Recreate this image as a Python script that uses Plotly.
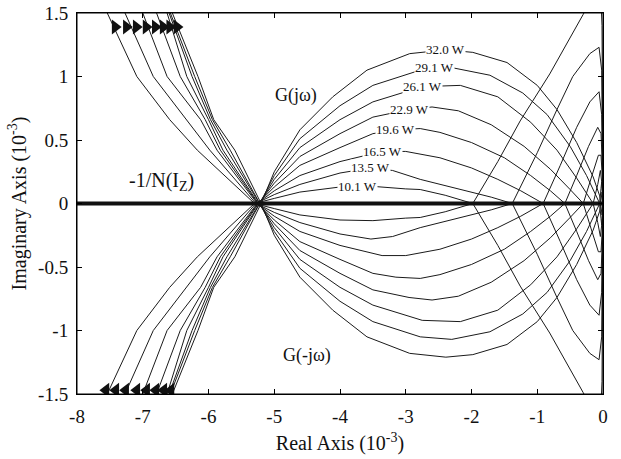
import plotly.graph_objects as go

# ---- data (units of 1e-3) ----
powers = ["10.1 W", "13.5 W", "16.5 W", "19.6 W", "22.9 W", "26.1 W", "29.1 W", "32.0 W"]

# left (low-frequency) segment: x at these |Im| levels
left_levels = [1.6, 1.5, 1.0, 0.66, 0.42]
left_x = [
    [-7.64, -7.54, -7.09, -6.59, -6.17],
    [-7.36, -7.27, -6.84, -6.33, -5.98],
    [-7.09, -7.00, -6.63, -6.12, -5.87],
    [-6.87, -6.79, -6.43, -6.05, -5.82],
    [-6.70, -6.63, -6.33, -6.00, -5.78],
    [-6.66, -6.60, -6.25, -5.97, -5.72],
    [-6.63, -6.58, -6.21, -5.94, -5.67],
    [-6.60, -6.55, -6.16, -5.92, -5.60],
]

# hump branch after the common crossing near -5.2
hump_x = [
    [-5.30, -5.00, -4.61, -4.00, -3.73, -3.50, -3.00, -2.78, -2.40, -1.98, -1.60, -1.26, -0.81, -0.30, -0.12, -0.04, -0.015, 0.0],
    [-5.28, -5.00, -4.61, -4.00, -3.53, -3.20, -2.78, -2.48, -2.00, -1.70, -1.38, -1.00, -0.70, -0.46, -0.20, -0.06, -0.02, -0.01, 0.0],
    [-5.26, -5.00, -4.61, -4.00, -3.36, -3.00, -2.78, -2.48, -2.00, -1.60, -1.25, -0.91, -0.65, -0.40, -0.20, -0.06, -0.02, -0.01, 0.0],
    [-5.25, -5.00, -4.61, -4.00, -3.50, -3.15, -2.78, -2.48, -2.00, -1.50, -1.10, -0.80, -0.58, -0.40, -0.22, -0.08, -0.03, -0.01, 0.0],
    [-5.24, -5.00, -4.61, -4.00, -3.50, -2.95, -2.60, -2.20, -1.70, -1.20, -0.80, -0.50, -0.30, -0.18, -0.07, -0.03, -0.01, 0.0],
    [-5.23, -5.00, -4.61, -4.00, -3.50, -2.75, -2.17, -1.60, -1.10, -0.70, -0.40, -0.15, -0.08, -0.04, -0.015, 0.0],
    [-5.22, -5.00, -4.61, -4.00, -3.50, -2.78, -2.30, -1.72, -1.22, -0.85, -0.50, -0.25, -0.10, -0.05, -0.03, -0.02, -0.01, 0.0],
    [-5.20, -5.00, -4.61, -4.11, -3.59, -2.94, -2.39, -1.98, -1.46, -1.00, -0.70, -0.40, -0.15, -0.05, -0.025, -0.015, -0.005, 0.0],
]
hump_y = [
    [0.0, 0.04, 0.09, 0.13, 0.135, 0.135, 0.115, 0.11, 0.065, 0.0, -0.33, -0.65, -1.02, -1.49, -1.68, -1.72, -1.40, 0.0],
    [0.0, 0.07, 0.15, 0.24, 0.28, 0.26, 0.19, 0.15, 0.09, 0.05, 0.0, -0.40, -0.74, -1.00, -1.18, -1.23, -1.05, -0.60, 0.0],
    [0.0, 0.10, 0.22, 0.33, 0.41, 0.41, 0.39, 0.36, 0.28, 0.19, 0.10, 0.0, -0.30, -0.60, -0.80, -0.88, -0.70, -0.40, 0.0],
    [0.0, 0.13, 0.30, 0.44, 0.55, 0.58, 0.59, 0.56, 0.48, 0.36, 0.22, 0.10, 0.0, -0.22, -0.45, -0.60, -0.55, -0.30, 0.0],
    [0.0, 0.16, 0.37, 0.55, 0.68, 0.74, 0.76, 0.73, 0.62, 0.45, 0.27, 0.11, 0.0, -0.20, -0.38, -0.38, -0.20, 0.0],
    [0.0, 0.19, 0.44, 0.66, 0.80, 0.92, 0.93, 0.84, 0.64, 0.42, 0.20, 0.0, -0.15, -0.26, -0.15, 0.0],
    [0.0, 0.22, 0.51, 0.77, 0.93, 1.05, 1.07, 1.01, 0.87, 0.70, 0.45, 0.22, 0.06, 0.0, -0.12, -0.17, -0.10, 0.0],
    [0.0, 0.25, 0.58, 0.84, 1.05, 1.18, 1.21, 1.19, 1.11, 0.93, 0.74, 0.48, 0.21, 0.06, -0.03, -0.09, -0.05, 0.0],
]

# power label positions (on the upper humps)
label_x = [-3.73, -3.53, -3.36, -3.15, -2.95, -2.75, -2.56, -2.39]
label_y = [0.13, 0.28, 0.41, 0.58, 0.74, 0.92, 1.07, 1.21]

# arrow heads
arrow_top_x = [-7.42, -7.25, -7.10, -6.95, -6.81, -6.69, -6.59, -6.48]
arrow_top_y = [1.39] * 8
arrow_bot_x = [-7.56, -7.41, -7.26, -7.09, -6.94, -6.80, -6.68, -6.57]
arrow_bot_y = [-1.47] * 8

# -1/N line
nline_x = [-8, 0]
nline_y = [0, 0]

x_ticks = [-8, -7, -6, -5, -4, -3, -2, -1, 0]
y_ticks = [-1.5, -1, -0.5, 0, 0.5, 1, 1.5]
y_ticktext = ["-1.5", "-1", "-0.5", "0", "0.5", "1", "1.5"]

FONT = "Liberation Serif, Times New Roman, serif"
LC = "#1a1a1a"

fig = go.Figure()

for k in range(len(powers)):
    xs = left_x[k] + hump_x[k]
    ys = [-v for v in left_levels] + hump_y[k]
    fig.add_trace(go.Scatter(x=xs, y=ys, mode="lines",
                             line=dict(color=LC, width=1), hoverinfo="skip", showlegend=False))
    fig.add_trace(go.Scatter(x=xs, y=[-v for v in ys], mode="lines",
                             line=dict(color=LC, width=1), hoverinfo="skip", showlegend=False))

fig.add_trace(go.Scatter(x=nline_x, y=nline_y, mode="lines",
                         line=dict(color="#111", width=4), hoverinfo="skip", showlegend=False))

fig.add_trace(go.Scatter(x=arrow_top_x, y=arrow_top_y, mode="markers",
                         marker=dict(symbol="triangle-right", size=13, color="#111"),
                         hoverinfo="skip", showlegend=False))
fig.add_trace(go.Scatter(x=arrow_bot_x, y=arrow_bot_y, mode="markers",
                         marker=dict(symbol="triangle-left", size=13, color="#111"),
                         hoverinfo="skip", showlegend=False))

for k, p in enumerate(powers):
    fig.add_annotation(x=label_x[k], y=label_y[k], text=p, showarrow=False,
                       font=dict(family=FONT, size=13, color="#111"),
                       bgcolor="white", borderpad=0)

fig.add_annotation(x=-4.67, y=0.85, text="G(jω)", showarrow=False,
                   font=dict(family=FONT, size=18, color="#111"))
fig.add_annotation(x=-4.5, y=-1.2, text="G(-jω)", showarrow=False,
                   font=dict(family=FONT, size=18, color="#111"))
fig.add_annotation(x=-6.71, y=0.17, text="-1/N(I<sub>Z</sub>)", showarrow=False,
                   font=dict(family=FONT, size=20, color="#111"))

# frame around the plotting area
fig.add_shape(type="rect", xref="paper", yref="paper", x0=0, y0=0, x1=1, y1=1,
              line=dict(color="black", width=1), layer="above")

axis_common = dict(showline=True, linecolor="black", linewidth=1, mirror="ticks",
                   ticks="inside", ticklen=5, tickcolor="black", showgrid=False,
                   zeroline=False, automargin=False, ticklabeloverflow="allow",
                   tickfont=dict(family=FONT, size=19, color="#111"))

fig.update_xaxes(range=[-8, 0], tickvals=x_ticks, ticktext=[str(v) for v in x_ticks],
                 ticklabelstandoff=5,
                 title=dict(text="Real Axis (10<sup>-3</sup>)", font=dict(family=FONT, size=20, color="#111"),
                            standoff=10),
                 **axis_common)
fig.update_yaxes(range=[-1.5, 1.5], tickvals=y_ticks, ticktext=y_ticktext,
                 ticklabelstandoff=4,
                 title=dict(text="Imaginary Axis (10<sup>-3</sup>)", font=dict(family=FONT, size=20, color="#111"),
                            standoff=6),
                 **axis_common)

fig.update_layout(width=621, height=459, margin=dict(l=77, r=18, t=13, b=65),
                  plot_bgcolor="white", paper_bgcolor="white", showlegend=False)

# remove the default page margin so the figure fills the window exactly
fig.write_html("out.html", config={"displayModeBar": False},
               post_script="document.body.style.margin='0px';")
